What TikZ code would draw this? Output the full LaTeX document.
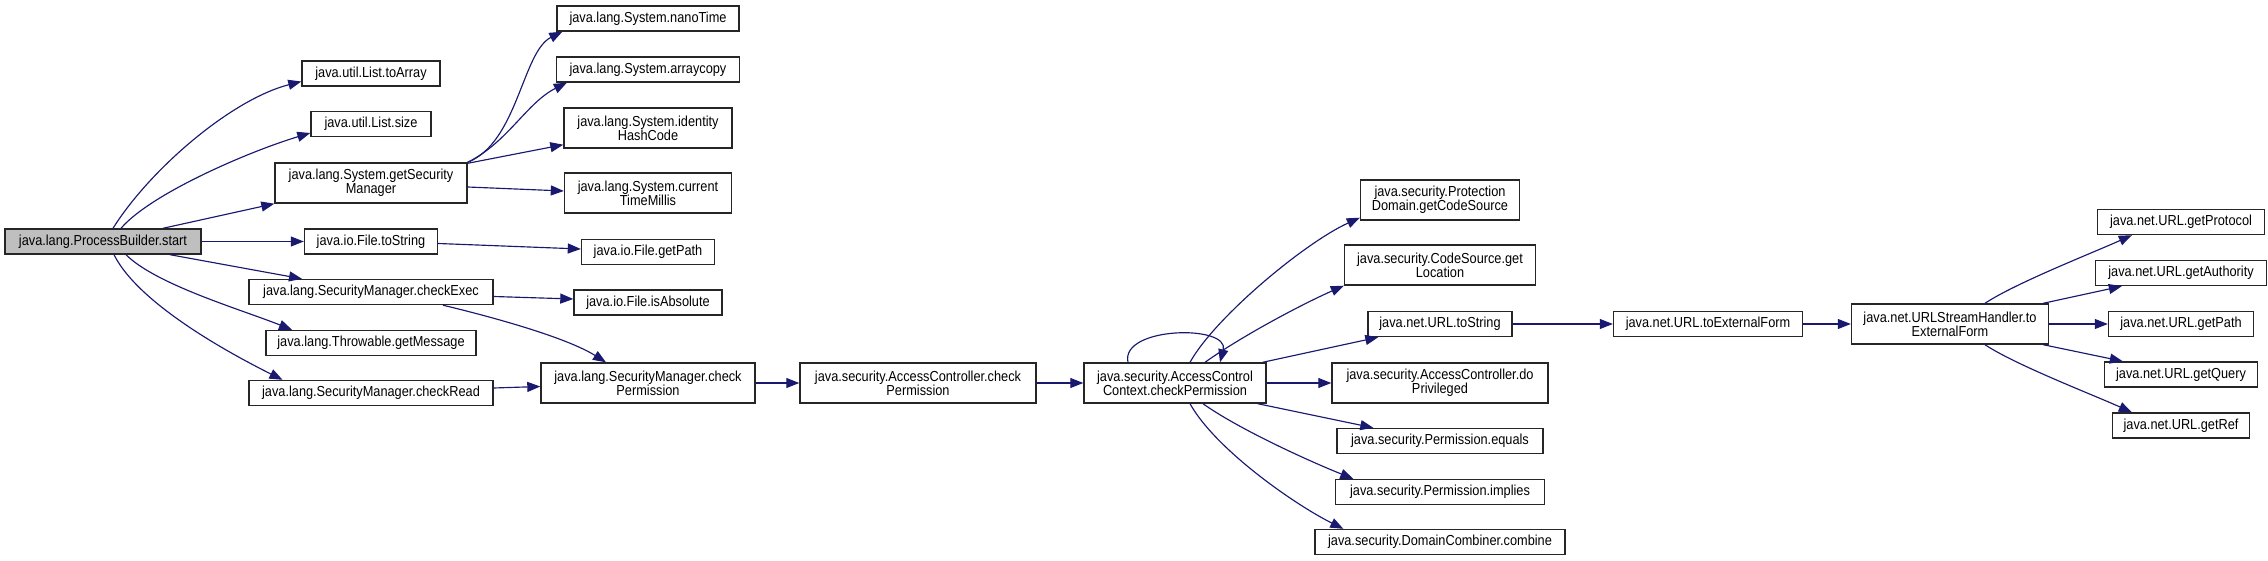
\documentclass[tikz,border=0pt]{standalone}
\usepackage{fontspec}
\setmainfont{Liberation Sans}[FakeStretch=0.88]
\usetikzlibrary{arrows.meta}
\definecolor{edgeblue}{HTML}{191970}
\definecolor{rootgrey}{HTML}{BFBFBF}
\begin{document}
\begin{tikzpicture}[x=1pt,y=1pt,
  box/.style={draw=black!85, line width=1.4pt, fill=white, inner sep=0pt, align=center,
    minimum height=25pt, font=\fontsize{14.5}{14.3}\selectfont},
  tall/.style={minimum height=40pt},
  e/.style={draw=edgeblue, line width=1.15pt, -{Triangle[length=13pt,width=10pt]}}]
\useasboundingbox (0,0) rectangle (2268,-561);
% column 1
\node[box, fill=rootgrey, minimum width=196pt] (pb) at (103,-241.5) {java.lang.ProcessBuilder.start};
% column 2
\node[box, minimum width=138pt] (toarray) at (371,-73.5) {java.util.List.toArray};
\node[box, minimum width=120pt] (size) at (371,-124) {java.util.List.size};
\node[box, tall, minimum width=192pt] (gsm) at (371,-183) {java.lang.System.getSecurity\\Manager};
\node[box, minimum width=133pt] (fts) at (371,-241.5) {java.io.File.toString};
\node[box, minimum width=244pt] (cexec) at (371,-292) {java.lang.SecurityManager.checkExec};
\node[box, minimum width=210pt] (tgm) at (371,-343) {java.lang.Throwable.getMessage};
\node[box, minimum width=244pt] (cread) at (371,-393) {java.lang.SecurityManager.checkRead};
% column 3
\node[box, minimum width=182pt] (nano) at (648,-18.5) {java.lang.System.nanoTime};
\node[box, minimum width=183pt] (acopy) at (648,-69.5) {java.lang.System.arraycopy};
\node[box, tall, minimum width=168pt] (ihc) at (648,-128) {java.lang.System.identity\\HashCode};
\node[box, tall, minimum width=167pt] (ctm) at (648,-193) {java.lang.System.current\\TimeMillis};
\node[box, minimum width=133pt] (gpath) at (648,-252) {java.io.File.getPath};
\node[box, minimum width=148pt] (isabs) at (648,-302.5) {java.io.File.isAbsolute};
\node[box, tall, minimum width=214pt] (smcp) at (648,-383) {java.lang.SecurityManager.check\\Permission};
% column 4,5
\node[box, tall, minimum width=236pt] (accp) at (918,-383) {java.security.AccessController.check\\Permission};
\node[box, tall, minimum width=182pt] (acccp) at (1175,-383) {java.security.AccessControl\\Context.checkPermission};
% column 6
\node[box, tall, minimum width=159pt] (pdgcs) at (1440,-200) {java.security.Protection\\Domain.getCodeSource};
\node[box, tall, minimum width=191pt] (csgl) at (1440,-265) {java.security.CodeSource.get\\Location};
\node[box, minimum width=144pt] (urlts) at (1440,-324) {java.net.URL.toString};
\node[box, tall, minimum width=216pt] (acdp) at (1440,-383) {java.security.AccessController.do\\Privileged};
\node[box, minimum width=206pt] (peq) at (1440,-441) {java.security.Permission.equals};
\node[box, minimum width=209pt] (pimp) at (1440,-492) {java.security.Permission.implies};
\node[box, minimum width=250pt] (dcc) at (1440,-542) {java.security.DomainCombiner.combine};
% column 7,8
\node[box, minimum width=189pt] (utef) at (1708,-324) {java.net.URL.toExternalForm};
\node[box, tall, minimum width=197pt] (ushtef) at (1950,-324) {java.net.URLStreamHandler.to\\ExternalForm};
% column 9
\node[box, minimum width=167pt] (gprot) at (2181,-222) {java.net.URL.getProtocol};
\node[box, minimum width=171pt] (gauth) at (2181,-273) {java.net.URL.getAuthority};
\node[box, minimum width=145pt] (gpathu) at (2181,-324) {java.net.URL.getPath};
\node[box, minimum width=153pt] (gquery) at (2181,-374.5) {java.net.URL.getQuery};
\node[box, minimum width=137pt] (gref) at (2181,-425.5) {java.net.URL.getRef};
% edges from ProcessBuilder.start
\draw[e] ([xshift=10pt]pb.north) .. controls +(37,59) and +(-70,-18) .. ([yshift=-8pt]toarray.west);
\draw[e] ([xshift=18pt]pb.north) .. controls +(30,35) and +(-60,-18) .. ([yshift=-9pt]size.west);
\draw[e] ([xshift=60pt]pb.north) -- (gsm.south west);
\draw[e] (pb.east) -- (fts.west);
\draw[e] ([xshift=67pt]pb.south) -- ([xshift=-69pt]cexec.north);
\draw[e] ([xshift=23pt]pb.south) .. controls +(30,-30) and +(-50,20) .. ([xshift=-79pt]tgm.north);
\draw[e] ([xshift=11pt]pb.south) .. controls +(25,-50) and +(-50,25) .. ([xshift=-88.5pt]cread.north);
% from getSecurityManager
\draw[e] (gsm.north east) .. controls +(50,20) and +(-40,-20) .. ([xshift=6pt]nano.south west);
\draw[e] (gsm.north east) .. controls +(40,20) and +(-40,-20) .. ([xshift=11pt]acopy.south west);
\draw[e] ([yshift=-1pt]gsm.north east) -- ([yshift=4pt]ihc.south west);
\draw[e] ([yshift=-4pt]gsm.east) -- ([yshift=2pt]ctm.west);
% others
\draw[e] ([yshift=-2pt]fts.east) -- ([yshift=3pt]gpath.west);
\draw[e] ([yshift=-4.5pt]cexec.east) -- ([yshift=3.5pt]isabs.west);
\draw[e] ([xshift=72pt]cexec.south) .. controls +(50,-12) and +(-40,25) .. ([xshift=-42pt]smcp.north);
\draw[e] ([yshift=5pt]cread.east) -- ([yshift=-3.5pt]smcp.west);
\draw[e] (smcp.east) -- (accp.west);
\draw[e] (accp.east) -- (acccp.west);
% from AccessControlContext.checkPermission
\draw[e] ([xshift=-47pt]acccp.north) .. controls +(-8,36) and +(10,38) .. ([xshift=45pt]acccp.north);
\draw[e] ([xshift=15pt]acccp.north) .. controls +(25,45) and +(-55,-25) .. ([yshift=3pt]pdgcs.south west);
\draw[e] ([xshift=30pt]acccp.north) .. controls +(35,25) and +(-45,-20) .. (csgl.south west);
\draw[e] ([xshift=-4pt]acccp.north east) -- ([xshift=11pt]urlts.south west);
\draw[e] (acccp.east) -- (acdp.west);
\draw[e] ([xshift=-9pt]acccp.south east) -- ([xshift=37pt]peq.north west);
\draw[e] ([xshift=28pt]acccp.south) .. controls +(35,-25) and +(-45,18) .. ([xshift=18.5pt]pimp.north west);
\draw[e] ([xshift=15pt]acccp.south) .. controls +(25,-45) and +(-50,25) .. ([xshift=29pt]dcc.north west);
% URL chain
\draw[e] (urlts.east) -- (utef.west);
\draw[e] (utef.east) -- (ushtef.west);
\draw[e] ([xshift=35pt]ushtef.north) .. controls +(30,20) and +(-40,-18) .. ([xshift=35pt]gprot.south west);
\draw[e] ([xshift=-6pt]ushtef.north east) -- ([xshift=27pt]gauth.south west);
\draw[e] (ushtef.east) -- (gpathu.west);
\draw[e] ([xshift=-6pt]ushtef.south east) -- ([xshift=19pt]gquery.north west);
\draw[e] ([xshift=35pt]ushtef.south) .. controls +(30,-20) and +(-40,18) .. ([xshift=20pt]gref.north west);
\end{tikzpicture}
\end{document}
